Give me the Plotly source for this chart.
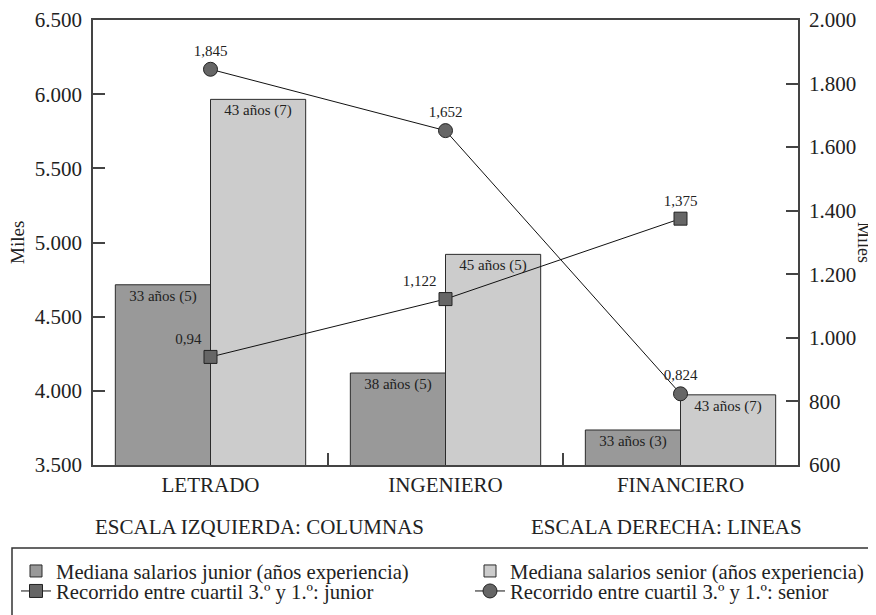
import plotly.graph_objects as go

categories = ["LETRADO", "INGENIERO", "FINANCIERO"]
junior_salary = [4715, 4120, 3736]
senior_salary = [5965, 4920, 3973]
junior_bar_text = ["33 años (5)", "38 años (5)", "33 años (3)"]
senior_bar_text = ["43 años (7)", "45 años (5)", "43 años (7)"]
junior_range = [940, 1122, 1375]
senior_range = [1845, 1652, 824]
junior_range_text = ["0,94", "1,122", "1,375"]
senior_range_text = ["1,845", "1,652", "0,824"]

# page body has an 8px margin, so the figure is drawn 8px in from the window edge
OFF = 8
W, H = 876 - OFF, 615 - OFF
L, R, T, B = 93 - OFF, 798 - OFF, 20 - OFF, 465 - OFF
FONT = "Liberation Serif"

def px_x(p):  # window pixel -> paper x
    return (p - OFF - L) / (R - L)

def px_y(p):  # window pixel -> paper y
    return (B - (p - OFF)) / (B - T)

bar_font = dict(family=FONT, size=15, color="#222222")
lbl_font = dict(family=FONT, size=15, color="#222222")

fig = go.Figure()
fig.add_trace(go.Bar(
    x=categories, y=junior_salary, name="Mediana salarios junior (años experiencia)",
    marker=dict(color="#999999", line=dict(color="#2b2b2b", width=1)),
    text=junior_bar_text, textposition="inside", insidetextanchor="end", textangle=0,
    constraintext="none", textfont=bar_font, yaxis="y", legend="legend"))
fig.add_trace(go.Bar(
    x=categories, y=senior_salary, name="Mediana salarios senior (años experiencia)",
    marker=dict(color="#cccccc", line=dict(color="#2b2b2b", width=1)),
    text=senior_bar_text, textposition="inside", insidetextanchor="end", textangle=0,
    constraintext="none", textfont=bar_font, yaxis="y", legend="legend2"))
fig.add_trace(go.Scatter(
    x=categories, y=junior_range, name="Recorrido entre cuartil 3.º y 1.º: junior",
    mode="lines+markers+text", yaxis="y2", legend="legend3",
    line=dict(color="#111111", width=1),
    marker=dict(symbol="square", size=13, color="#666666", line=dict(color="#222222", width=1)),
    text=junior_range_text, textposition=["top left", "top left", "top center"],
    textfont=lbl_font))
fig.add_trace(go.Scatter(
    x=categories, y=senior_range, name="Recorrido entre cuartil 3.º y 1.º: senior",
    mode="lines+markers+text", yaxis="y2", legend="legend4",
    line=dict(color="#111111", width=1),
    marker=dict(symbol="circle", size=14, color="#666666", line=dict(color="#222222", width=1)),
    text=senior_range_text, textposition="top center",
    textfont=lbl_font))

axis_line = dict(showline=True, linecolor="#444444", linewidth=1.5)
leg_common = dict(orientation="v", xanchor="left", yanchor="top", traceorder="normal",
                  font=dict(family=FONT, size=20.7, color="#222222"),
                  bgcolor="rgba(0,0,0,0)", borderwidth=0, tracegroupgap=0)

def center_ann(text, x, y, size=21, angle=0):
    return dict(text=text, xref="paper", yref="paper", x=px_x(x), y=px_y(y),
                xanchor="center", yanchor="middle", showarrow=False, textangle=angle,
                font=dict(family=FONT, size=size, color="#222222"))

fig.update_layout(
    width=W, height=H, autosize=False,
    margin=dict(l=L, r=W - R, t=T, b=H - B, autoexpand=False),
    paper_bgcolor="white", plot_bgcolor="white",
    separators=",.",
    font=dict(family=FONT, size=21, color="#222222"),
    barmode="group", bargap=0.19, bargroupgap=0,
    showlegend=True,
    legend=dict(x=px_x(16), y=px_y(551), **leg_common),
    legend2=dict(x=px_x(470), y=px_y(551), **leg_common),
    legend3=dict(x=px_x(16), y=px_y(571), **leg_common),
    legend4=dict(x=px_x(470), y=px_y(571), **leg_common),
    xaxis=dict(**axis_line, mirror=True, ticks="inside", tickson="boundaries", ticklen=12,
               tickcolor="#444444", tickwidth=1.5, showgrid=False,
               tickfont=dict(family=FONT, size=21), ticklabelstandoff=0),
    yaxis=dict(**axis_line, range=[3500, 6500], dtick=500, tickformat=",d",
               ticks="inside", ticklen=12, tickcolor="#444444", tickwidth=1.5,
               showgrid=False, zeroline=False, tickfont=dict(family=FONT, size=21),
               ticklabelstandoff=5),
    yaxis2=dict(**axis_line, overlaying="y", side="right", range=[600, 2000], dtick=200,
                tickformat=",d", ticks="inside", ticklen=12, tickcolor="#444444",
                tickwidth=1.5, showgrid=False, zeroline=False,
                tickfont=dict(family=FONT, size=21), ticklabelstandoff=5),
    shapes=[dict(type="rect", xref="paper", yref="paper",
                 x0=px_x(12), x1=px_x(890), y0=px_y(548), y1=px_y(640),
                 line=dict(color="#333333", width=1.5), fillcolor="rgba(0,0,0,0)")],
    annotations=[
        center_ann("Miles", 18, 243, size=19, angle=-90),
        center_ann("Miles", 864, 243, size=18, angle=90),
        center_ann("ESCALA IZQUIERDA: COLUMNAS", 259, 527),
        center_ann("ESCALA DERECHA: LINEAS", 666, 527),
    ],
)

fig.write_html("out.html")
